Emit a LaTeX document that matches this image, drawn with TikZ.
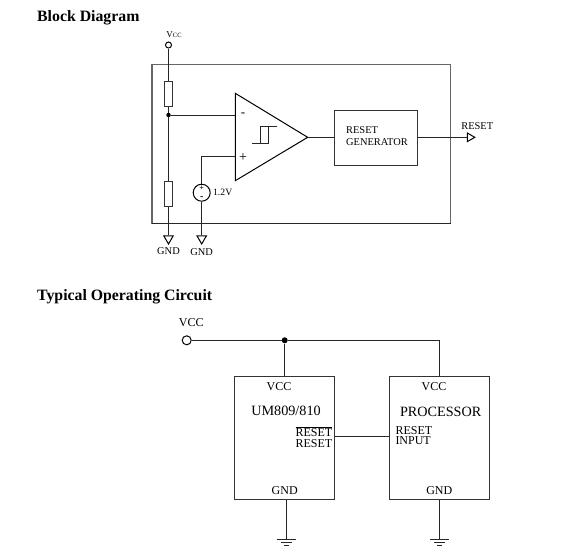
\documentclass[tikz,border=0pt]{standalone}
\usepackage{fontspec}
\setmainfont{Liberation Serif}
\usetikzlibrary{shapes.geometric}
\tikzset{
  box/.style   = {draw, inner sep=0pt, line width=1pt, black!80},
  wire/.style  = {line width=1pt, black!85},
  shell/.style = {line width=1.2pt, black!60},
  res/.style   = {box, fill=white, minimum width=8mm, minimum height=25pt},
  dot/.style   = {circle, fill=black, inner sep=0pt, minimum size=6pt},
  odot/.style  = {circle, draw, line width=1pt, fill=white, inner sep=0pt},
  gndtri/.style = {regular polygon, regular polygon sides=3, draw, line width=1pt,
                   fill=white, inner sep=0pt, minimum size=11pt, shape border rotate=180},
  txt/.style   = {inner sep=0pt, font=\fontsize{10.4}{11}\selectfont},
  big/.style   = {inner sep=0pt, font=\fontsize{12}{13}\selectfont},
  pair/.style  = {inner sep=0pt, anchor=west, align=left, font=\fontsize{12}{10.6}\selectfont},
  chip/.style  = {inner sep=0pt, font=\fontsize{14.2}{15}\selectfont},
  head/.style  = {inner sep=0pt, anchor=west, font=\fontsize{15.8}{17}\selectfont\bfseries},
}
\begin{document}
\begin{tikzpicture}[x=1pt,y=-1pt]
  \useasboundingbox[fill=white] (0,0) rectangle (584,558);
  \node[head] (head1) at (37,18) {Block Diagram};
  \node[head] (head2) at (37,296.5) {Typical Operating Circuit};

  % block diagram
  \draw[shell] (152,64.7) rectangle (450.7,223.3);
  \draw[wire] (152,223.3) -- (450.7,223.3);
  \node[odot, minimum size=6pt] (vcc1) at (168.5,45) {};
  \node[inner sep=0pt] (vcc1lbl) at (174,34.5) {\fontsize{9}{10}\selectfont V\fontsize{6.5}{7}\selectfont CC};
  \node[res, minimum width=8pt] (rtop) at (168.5,94.2) {};
  \node[res, minimum width=8pt] (rbot) at (168.5,194) {};
  \node[dot, minimum size=4.5pt] (tap) at (168.5,115) {};
  \node[gndtri] (gnd1) at (168.5,238.5) {};
  \node[gndtri] (gnd2) at (201.7,238.5) {};
  \node[txt] (gnd1lbl) at (168.5,251.5) {GND};
  \node[txt] (gnd2lbl) at (201.7,252.5) {GND};
  \node[circle, draw, line width=1pt, inner sep=0pt, minimum size=17pt] (vsrc) at (201.7,192.7) {};
  \node[inner sep=0pt, font=\fontsize{8}{8}\selectfont\bfseries] (vsrcp) at (201.7,187.8) {+};
  \node[inner sep=0pt, font=\fontsize{10}{8}\selectfont\bfseries] (vsrcm) at (201.7,198) {-};
  \node[txt, font=\fontsize{9.7}{10}\selectfont] (vlbl) at (222.7,192.7) {1.2V};

  \coordinate (ampT) at (235.3,93.3);
  \coordinate (ampB) at (235.3,180.7);
  \coordinate (ampO) at (307.7,137.3);
  \coordinate (inm) at (235.3,115);
  \coordinate (inp) at (235.3,156);
  \draw[line width=1pt] (ampT) -- (ampO) -- (ampB) -- cycle;
  \node[txt, font=\fontsize{13}{13}\selectfont] (mlbl) at (243,115) {-};
  \node[txt, font=\fontsize{14}{14}\selectfont] (plbl) at (243,158) {+};
  \draw[wire] (251.7,143.3) -- (268.3,143.3) -- (268.3,126.7)
     (260.7,143.3) -- (260.7,126.7) -- (276.7,126.7);

  \node[box, minimum width=83pt, minimum height=55pt] (gen) at (376.2,138.2) {};
  \node[txt, anchor=west] (genl1) at (346,130) {RESET};
  \node[txt, anchor=west] (genl2) at (346,142.3) {GENERATOR};
  \node[gndtri, minimum size=10pt, shape border rotate=-90] (rst) at (469.8,137.3) {};
  \node[txt] (rstlbl) at (477.3,126) {RESET};

  \draw[wire] (vcc1) -- (rtop);
  \draw[wire] (rtop) -- (tap);
  \draw[wire] (tap) -- (rbot);
  \draw[wire] (rbot) -- (gnd1);
  \draw[wire] (tap) -- (inm);
  \draw[wire] (inp) -| (vsrc);
  \draw[wire] (vsrc) -- (gnd2);
  \draw[wire] (ampO) -- (ampO -| gen.west);
  \draw[wire] (gen.east |- ampO) -- (rst);

  % operating circuit
  \node[big] (vcc2lbl) at (191.3,322.7) {VCC};
  \node[odot, minimum size=9pt] (vcc2) at (186.7,340.3) {};
  \node[dot] (jct) at (284.7,340.3) {};
  \node[box, minimum width=99.6pt, minimum height=123.3pt] (um) at (284.5,438.3) {};
  \node[box, minimum width=99.6pt, minimum height=123.3pt] (cpu) at (439.5,438.3) {};
  \node[big] (umvcc) at (279,386.7) {VCC};
  \node[big] (cpuvcc) at (434,386.7) {VCC};
  \node[chip] (umlbl) at (286,410.7) {UM809/810};
  \node[chip] (cpulbl) at (440.7,411.7) {PROCESSOR};
  \node[pair] (rstlbls) at (295.3,437) {$\overline{\mbox{RESET}}$\\RESET};
  \node[pair] (inlbls) at (395.3,435.5) {RESET\\INPUT};
  \node[big] (umgnd) at (284.7,490.7) {GND};
  \node[big] (cpugnd) at (439.3,490.7) {GND};
  \coordinate (gndA) at (286.3,539);
  \coordinate (gndB) at (439.5,539);

  \draw[wire] (vcc2) -- (jct);
  \draw[wire] (jct) -| (cpu.north);
  \draw[wire] (jct) -- (jct |- um.north);
  \draw[wire] (um.east |- 0,436.7) -- (cpu.west |- 0,436.7);
  \draw[wire] (gndA |- um.south) -- (gndA);
  \draw[wire] (cpu.south) -- (gndB);
  \foreach \g in {gndA,gndB} {
    \draw[wire] ([xshift=-9.5pt]\g) -- ([xshift=9.5pt]\g);
    \draw[wire] ([xshift=-5.5pt,yshift=-3pt]\g) -- ([xshift=5.5pt,yshift=-3pt]\g);
    \draw[wire] ([xshift=-2.5pt,yshift=-6pt]\g) -- ([xshift=2.5pt,yshift=-6pt]\g);
  }
\end{tikzpicture}
\end{document}
